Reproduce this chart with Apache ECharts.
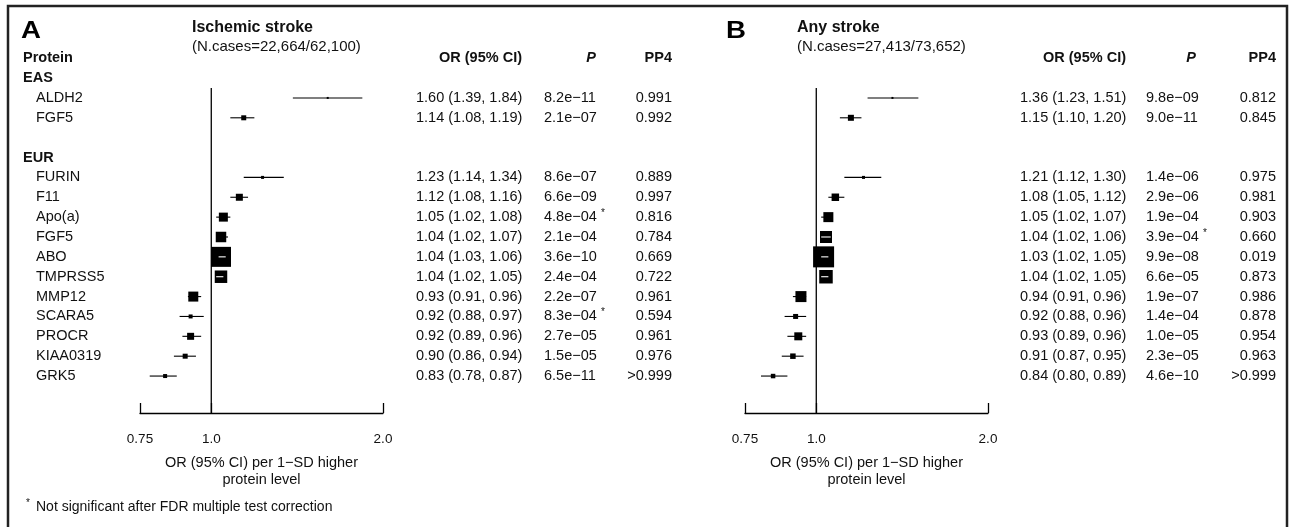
<!DOCTYPE html>
<html>
<head>
<meta charset="utf-8">
<script src="https://cdn.jsdelivr.net/npm/echarts@6/dist/echarts.min.js"></script>
<style>
html,body{margin:0;padding:0;background:#fff}
#main{width:1294px;height:527px}
</style>
</head>
<body>
<div id="main"></div>
<script>
// proteins in plotting order, grouped by ancestry
var proteins = ['ALDH2', 'FGF5', 'FURIN', 'F11', 'Apo(a)', 'FGF5', 'ABO', 'TMPRSS5', 'MMP12', 'SCARA5', 'PROCR', 'KIAA0319', 'GRK5'];
var ancestry = ['EAS', 'EAS', 'EUR', 'EUR', 'EUR', 'EUR', 'EUR', 'EUR', 'EUR', 'EUR', 'EUR', 'EUR', 'EUR'];

// A: ischemic stroke
var orA  = [1.60, 1.14, 1.23, 1.12, 1.05, 1.04, 1.04, 1.04, 0.93, 0.92, 0.92, 0.90, 0.83];
var loA  = [1.39, 1.08, 1.14, 1.08, 1.02, 1.02, 1.03, 1.02, 0.91, 0.88, 0.89, 0.86, 0.78];
var hiA  = [1.84, 1.19, 1.34, 1.16, 1.08, 1.07, 1.06, 1.05, 0.96, 0.97, 0.96, 0.94, 0.87];
var pA   = ['8.2e\u221211', '2.1e\u221207', '8.6e\u221207', '6.6e\u221209', '4.8e\u221204', '2.1e\u221204', '3.6e\u221210', '2.4e\u221204', '2.2e\u221207', '8.3e\u221204', '2.7e\u221205', '1.5e\u221205', '6.5e\u221211'];
var nsA  = [0, 0, 0, 0, 1, 0, 0, 0, 0, 1, 0, 0, 0];
var pp4A = ['0.991', '0.992', '0.889', '0.997', '0.816', '0.784', '0.669', '0.722', '0.961', '0.594', '0.961', '0.976', '>0.999'];
var weightA = [2, 5, 3, 7, 9, 10.5, 20, 12.5, 10, 4, 7, 5, 4];

// B: any stroke
var orB  = [1.36, 1.15, 1.21, 1.08, 1.05, 1.04, 1.03, 1.04, 0.94, 0.92, 0.93, 0.91, 0.84];
var loB  = [1.23, 1.10, 1.12, 1.05, 1.02, 1.02, 1.02, 1.02, 0.91, 0.88, 0.89, 0.87, 0.80];
var hiB  = [1.51, 1.20, 1.30, 1.12, 1.07, 1.06, 1.05, 1.05, 0.96, 0.96, 0.96, 0.95, 0.89];
var pB   = ['9.8e\u221209', '9.0e\u221211', '1.4e\u221206', '2.9e\u221206', '1.9e\u221204', '3.9e\u221204', '9.9e\u221208', '6.6e\u221205', '1.9e\u221207', '1.4e\u221204', '1.0e\u221205', '2.3e\u221205', '4.6e\u221210'];
var nsB  = [0, 0, 0, 0, 0, 1, 0, 0, 0, 0, 0, 0, 0];
var pp4B = ['0.812', '0.845', '0.975', '0.981', '0.903', '0.660', '0.019', '0.873', '0.986', '0.878', '0.954', '0.963', '>0.999'];
var weightB = [2, 6, 3, 7.5, 10, 12, 21, 13.5, 11, 5, 8, 5.5, 4.5];

var xTickValues = [0.75, 1.0, 2.0];
var xTickLabels = ['0.75', '1.0', '2.0'];

var FONT = '"Liberation Sans", Arial, Helvetica, sans-serif';
var TXT = '#111';
var Y_MIN = -0.5, Y_MAX = 15.86;

// row layout: header row per ancestry group, blank row between groups
var rowOf = [], headerRows = [];
(function () {
  var r = -1;
  for (var i = 0; i < proteins.length; i++) {
    if (i === 0 || ancestry[i] !== ancestry[i - 1]) {
      if (i > 0) r += 1;
      headerRows.push({ row: r, text: ancestry[i] });
      r += 1;
    }
    rowOf.push(r);
    r += 1;
  }
})();

function fmt(v) { return v.toFixed(2); }

var panels = [
  { or: orA, lo: loA, hi: hiA, p: pA, ns: nsA, pp4: pp4A, w: weightA, gridLeft: 140,
    orLeft: 416, orRight: 522, pLeft: 544, pRight: 596, pp4Right: 672,
    letter: 'A', letterX: 21, title: 'Ischemic stroke', sub: '(N.cases=22,664/62,100)', titleX: 192 },
  { or: orB, lo: loB, hi: hiB, p: pB, ns: nsB, pp4: pp4B, w: weightB, gridLeft: 745,
    orLeft: 1020, orRight: 1126, pLeft: 1146, pRight: 1196, pp4Right: 1276,
    letter: 'B', letterX: 726, title: 'Any stroke', sub: '(N.cases=27,413/73,652)', titleX: 797 }
];

function txt(x, y, s, opt) {
  opt = opt || {};
  return {
    type: 'text', x: x, y: y,
    style: {
      text: s, fill: TXT, align: opt.align || 'left', verticalAlign: 'middle',
      fontFamily: FONT, fontSize: opt.size || 14.5,
      fontWeight: opt.bold ? 'bold' : 'normal', fontStyle: opt.italic ? 'italic' : 'normal'
    }
  };
}

var grids = [], xAxes = [], yAxes = [], series = [], graphics = [];

panels.forEach(function (pn, k) {
  grids.push({ left: pn.gridLeft, width: 243, top: 88, height: 325, outerBoundsMode: 'none' });
  xAxes.push({
    gridIndex: k, type: 'log', logBase: 10, min: 0.75, max: 2,
    axisLine: { show: true, onZero: false, lineStyle: { color: '#000', width: 1.3 } },
    axisTick: { show: true, inside: true, length: 10, customValues: xTickValues, lineStyle: { color: '#000', width: 1.3 } },
    axisLabel: {
      customValues: xTickValues, margin: 19, fontSize: 13.5, color: TXT, fontFamily: FONT,
      formatter: function (v) {
        for (var i = 0; i < xTickValues.length; i++) if (Math.abs(xTickValues[i] - v) < 1e-6) return xTickLabels[i];
        return '';
      }
    },
    splitLine: { show: false },
    name: 'OR (95% CI) per 1\u2212SD higher\nprotein level',
    nameLocation: 'middle', nameGap: 41,
    nameTextStyle: { fontSize: 14.5, lineHeight: 17, color: TXT, fontFamily: FONT }
  });
  yAxes.push({ gridIndex: k, type: 'value', inverse: true, min: Y_MIN, max: Y_MAX, show: false });

  // reference line at OR = 1
  series.push({
    type: 'custom', xAxisIndex: k, yAxisIndex: k, clip: false, silent: true,
    data: [[1, 0]],
    renderItem: function (params, api) {
      var a = api.coord([1, Y_MIN]), b = api.coord([1, Y_MAX]);
      return { type: 'line', shape: { x1: a[0], y1: a[1], x2: b[0], y2: b[1] }, style: { stroke: '#000', lineWidth: 1.3 } };
    }
  });

  // estimates with CI
  series.push({
    type: 'custom', xAxisIndex: k, yAxisIndex: k, clip: false, silent: true,
    data: pn.or.map(function (v, i) { return [v, pn.lo[i], pn.hi[i], rowOf[i], pn.w[i]]; }),
    encode: { x: 0, y: 3 },
    renderItem: function (params, api) {
      var row = api.value(3), w = api.value(4), half = w / 2;
      var c = api.coord([api.value(0), row]);
      var l = api.coord([api.value(1), row]);
      var h = api.coord([api.value(2), row]);
      var inside = (c[0] - half <= l[0]) && (c[0] + half >= h[0]);
      var kids = [];
      if (!inside) kids.push({ type: 'line', shape: { x1: l[0], y1: c[1], x2: h[0], y2: c[1] }, style: { stroke: '#000', lineWidth: 1.1 } });
      kids.push({ type: 'rect', shape: { x: c[0] - half, y: c[1] - half, width: w, height: w }, style: { fill: '#000' } });
      if (inside) kids.push({ type: 'line', shape: { x1: l[0], y1: c[1], x2: h[0], y2: c[1] }, style: { stroke: '#fff', lineWidth: 1.1 } });
      return { type: 'group', children: kids };
    }
  });

  // table: OR (95% CI), P, PP4
  series.push({
    type: 'custom', xAxisIndex: k, yAxisIndex: k, clip: false, silent: true,
    data: pn.or.map(function (v, i) { return [1, rowOf[i]]; }),
    renderItem: function (params, api) {
      var i = params.dataIndex;
      var y = api.coord([1, api.value(1)])[1];
      var kids = [
        txt(pn.orLeft, y, fmt(pn.or[i]) + ' (' + fmt(pn.lo[i]) + ', ' + fmt(pn.hi[i]) + ')'),
        txt(pn.pLeft, y, pn.p[i]),
        txt(pn.pp4Right, y, pn.pp4[i], { align: 'right' })
      ];
      if (pn.ns[i]) kids.push(txt(pn.pLeft + 57, y - 4, '*', { size: 10 }));
      return { type: 'group', children: kids };
    }
  });

  // column headers
  series.push({
    type: 'custom', xAxisIndex: k, yAxisIndex: k, clip: false, silent: true,
    data: [[1, -2]],
    renderItem: function (params, api) {
      var y = api.coord([1, api.value(1)])[1];
      var kids = [
        txt(pn.orRight, y, 'OR (95% CI)', { bold: true, align: 'right' }),
        txt(pn.pRight, y, 'P', { bold: true, italic: true, align: 'right' }),
        txt(pn.pp4Right, y, 'PP4', { bold: true, align: 'right' })
      ];
      if (k === 0) kids.push(txt(23, y, 'Protein', { bold: true }));
      return { type: 'group', children: kids };
    }
  });

  graphics.push({ type: 'text', x: pn.letterX, y: 31, scaleX: 1.15, style: { text: pn.letter, fill: '#000', fontFamily: FONT, fontSize: 24, fontWeight: 'bold', verticalAlign: 'middle' } });
  graphics.push({ type: 'text', x: pn.titleX, y: 28, style: { text: pn.title, fill: TXT, fontFamily: FONT, fontSize: 16, fontWeight: 'bold', verticalAlign: 'middle' } });
  graphics.push({ type: 'text', x: pn.titleX, y: 47, style: { text: pn.sub, fill: TXT, fontFamily: FONT, fontSize: 15, verticalAlign: 'middle' } });
});

// protein names and ancestry headers (left column)
series.push({
  type: 'custom', xAxisIndex: 0, yAxisIndex: 0, clip: false, silent: true,
  data: proteins.map(function (p, i) { return [1, rowOf[i]]; }).concat(headerRows.map(function (h) { return [1, h.row]; })),
  renderItem: function (params, api) {
    var i = params.dataIndex;
    var y = api.coord([1, api.value(1)])[1];
    if (i < proteins.length) return txt(36, y, proteins[i]);
    return txt(23, y, headerRows[i - proteins.length].text, { bold: true });
  }
});

// frame (open at the bottom edge of the picture) and footnote
graphics.push({ type: 'rect', shape: { x: 8, y: 6, width: 1279, height: 530 }, style: { fill: 'none', stroke: '#222', lineWidth: 2.5 } });
graphics.push({ type: 'text', x: 26, y: 503, style: { text: '*', fill: TXT, fontFamily: FONT, fontSize: 10, verticalAlign: 'middle' } });
graphics.push({ type: 'text', x: 36, y: 507, style: { text: 'Not significant after FDR multiple test correction', fill: TXT, fontFamily: FONT, fontSize: 14, verticalAlign: 'middle' } });

var chart = echarts.init(document.getElementById('main'), null, { renderer: 'canvas' });
chart.setOption({
  backgroundColor: '#fff',
  animation: false,
  grid: grids,
  xAxis: xAxes,
  yAxis: yAxes,
  series: series,
  graphic: graphics
});
</script>
</body>
</html>
